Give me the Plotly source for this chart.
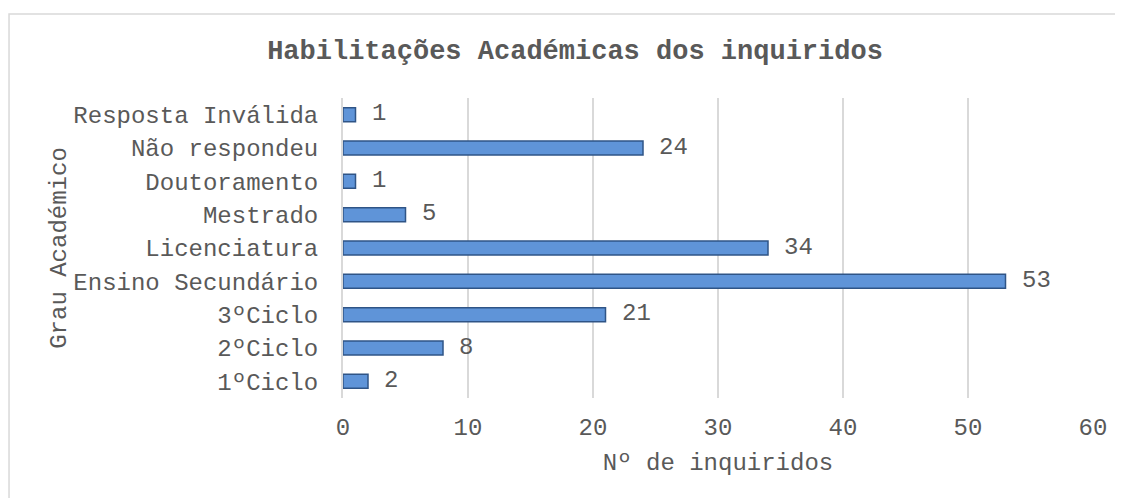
import plotly.graph_objects as go

categories = ["1ºCiclo", "2ºCiclo", "3ºCiclo", "Ensino Secundário", "Licenciatura",
              "Mestrado", "Doutoramento", "Não respondeu", "Resposta Inválida"]
values = [2, 8, 21, 53, 34, 5, 1, 24, 1]
x_ticks = [0, 10, 20, 30, 40, 50, 60]

FONT = "Liberation Mono"
GRAY = "#595959"

fig = go.Figure()
fig.add_trace(go.Bar(
    y=categories, x=values, orientation="h", width=0.42,
    marker=dict(color="#5F94D8", line=dict(color="#2F5486", width=1.5)),
    hoverinfo="x+y",
))

annotations = []
for c, v in zip(categories, values):
    annotations.append(dict(x=v, y=c, xref="x", yref="y", text=str(v), showarrow=False,
                            xanchor="left", xshift=14, yshift=1,
                            font=dict(family=FONT, size=24, color=GRAY)))

fig.update_layout(
    width=1115, height=490,
    margin=dict(l=335, r=30, t=90, b=100),
    paper_bgcolor="white", plot_bgcolor="white",
    font=dict(family=FONT, size=24, color=GRAY),
    showlegend=False,
    title=dict(text="<b>Habilitações Académicas dos inquiridos</b>", x=567 / 1115, xanchor="center",
               xref="container", y=1 - 42 / 490, yanchor="middle", yref="container",
               font=dict(family=FONT, size=27, color=GRAY)),
    xaxis=dict(range=[0, 60], tickvals=x_ticks, showgrid=True, gridcolor="#d9d9d9", gridwidth=1.5,
               zeroline=False, showline=False, ticks="", tickfont=dict(size=24, color=GRAY),
               title=dict(text="Nº de inquiridos", font=dict(size=24, color=GRAY), standoff=12),
               ticklabelstandoff=12),
    yaxis=dict(categoryorder="array", categoryarray=categories, showgrid=False,
               showline=True, linecolor="#d9d9d9", linewidth=2, ticks="",
               tickfont=dict(size=24, color=GRAY), ticklabelstandoff=18,
               title=dict(text="Grau Académico", font=dict(size=24, color=GRAY), standoff=0)),
    annotations=annotations,
    shapes=[dict(type="rect", xref="paper", yref="paper", x0=-0.4453, x1=1.2, y0=-0.4, y1=1.28,
                 line=dict(color="#d9d9d9", width=1.5), fillcolor="rgba(0,0,0,0)", layer="below")],
    bargap=0.58,
)

fig.write_html("out.html")
